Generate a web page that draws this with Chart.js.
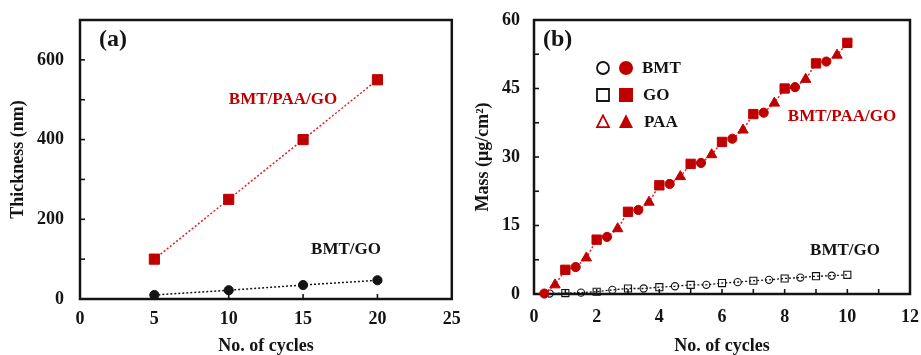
<!DOCTYPE html>
<html>
<head>
<meta charset="utf-8">
<script src="https://cdn.jsdelivr.net/npm/chart.js@4.4.1/dist/chart.umd.min.js"></script>
<style>
    html, body { margin: 0; padding: 0; background: #fff; }
    #wrap { position: relative; width: 921px; height: 355px; }
    .panel { position: absolute; top: 0; height: 355px; }
</style>
</head>
<body>
<div id="wrap">
    <div class="panel" style="left:0;width:460px"><canvas id="chartA" width="460" height="355"></canvas></div>
    <div class="panel" style="left:460px;width:461px"><canvas id="chartB" width="461" height="355"></canvas></div>
</div>
<script>
// panel (a): film thickness vs number of cycles
const cyclesA = [5, 10, 15, 20]
const thicknessPAA = [100, 250, 400, 550]
const thicknessGO = [10, 22, 35, 47]

// panel (b): mass after each deposited layer, BMT/PAA/GO (red)
const cyclesRedBMT = [0.33, 1.33, 2.33, 3.33, 4.33, 5.33, 6.33, 7.33, 8.33, 9.33]
const massRedBMT = [0.1, 5.9, 12.5, 18.4, 24.1, 28.7, 34.0, 39.7, 45.3, 50.9]
const cyclesRedPAA = [0.67, 1.67, 2.67, 3.67, 4.67, 5.67, 6.67, 7.67, 8.67, 9.67]
const massRedPAA = [2.0, 7.9, 14.3, 20.1, 25.7, 30.5, 35.9, 41.8, 47.0, 52.3]
const cyclesRedGO = [1, 2, 3, 4, 5, 6, 7, 8, 9, 10]
const massRedGO = [5.3, 11.9, 18.0, 23.8, 28.5, 33.3, 39.4, 45.0, 50.5, 55.0]

// panel (b): BMT/GO (black, open markers)
const cyclesBlackBMT = [0.5, 1.5, 2.5, 3.5, 4.5, 5.5, 6.5, 7.5, 8.5, 9.5]
const massBlackBMT = [0.1, 0.3, 0.9, 1.2, 1.7, 2.0, 2.6, 3.1, 3.6, 4.0]
const cyclesBlackGO = [1, 2, 3, 4, 5, 6, 7, 8, 9, 10]
const massBlackGO = [0.2, 0.5, 1.2, 1.5, 2.0, 2.4, 2.9, 3.4, 3.9, 4.2]

const FAMILY = "'Liberation Serif', 'Times New Roman', serif"
const INK = '#141414'
const RED = '#c00000'
const RED_LINE = '#e02020'

function pairs(xs, ys) {
    return xs.map((x, i) => ({ x: x, y: ys[i] }))
}

// interleave the layers of one film into a single sorted line
function mergeLayers(layers) {
    const pts = []
    layers.forEach(l => {
        l.xs.forEach((x, i) => pts.push({ x: x, y: l.ys[i], style: l.style, radius: l.radius }))
    })
    pts.sort((a, b) => a.x - b.x)
    return {
        data: pts.map(p => ({ x: p.x, y: p.y })),
        styles: pts.map(p => p.style),
        radii: pts.map(p => p.radius)
    }
}

const redFilm = mergeLayers([
    { xs: cyclesRedBMT, ys: massRedBMT, style: 'circle', radius: 4.6 },
    { xs: cyclesRedPAA, ys: massRedPAA, style: 'triangle', radius: 6 },
    { xs: cyclesRedGO, ys: massRedGO, style: 'rect', radius: 6.6 }
])
const blackFilm = mergeLayers([
    { xs: cyclesBlackBMT, ys: massBlackBMT, style: 'circle', radius: 3.6 },
    { xs: cyclesBlackGO, ys: massBlackGO, style: 'rect', radius: 5 }
])

// frame round the plot area and small ticks pointing inwards
const frameTicks = {
    id: 'frameTicks',
    beforeDatasetsDraw(chart) {
        const { ctx, chartArea: a } = chart
        ctx.save()
        ctx.strokeStyle = INK
        ctx.lineWidth = 1.6
        const xs = chart.scales.x
        xs.ticks.forEach(t => {
            if (t.value <= xs.min || t.value >= xs.max) return
            const px = xs.getPixelForValue(t.value)
            ctx.beginPath()
            ctx.moveTo(px, a.bottom)
            ctx.lineTo(px, a.bottom - 5)
            ctx.stroke()
        })
        const ys = chart.scales.y
        ys.ticks.forEach(t => {
            if (t.value <= ys.min || t.value >= ys.max) return
            const py = ys.getPixelForValue(t.value)
            ctx.beginPath()
            ctx.moveTo(a.left, py)
            ctx.lineTo(a.left + 5, py)
            ctx.stroke()
        })
        ctx.lineWidth = 2.5
        ctx.strokeRect(a.left, a.top, a.right - a.left, a.bottom - a.top)
        ctx.restore()
    }
}

function font(size) {
    return { family: FAMILY, size: size, weight: 'bold' }
}

function writeText(ctx, text, x, y, color, size, align) {
    ctx.font = 'bold ' + size + 'px ' + FAMILY
    ctx.fillStyle = color
    ctx.textAlign = align || 'left'
    ctx.textBaseline = 'middle'
    ctx.fillText(text, x, y)
}

function marker(ctx, kind, x, y, size, fill, stroke) {
    ctx.beginPath()
    if (kind === 'circle') {
        ctx.arc(x, y, size / 2, 0, Math.PI * 2)
    } else if (kind === 'square') {
        ctx.rect(x - size / 2, y - size / 2, size, size)
    } else {
        ctx.moveTo(x, y - size * 0.55)
        ctx.lineTo(x + size / 2, y + size * 0.42)
        ctx.lineTo(x - size / 2, y + size * 0.42)
        ctx.closePath()
    }
    if (fill) {
        ctx.fillStyle = fill
        ctx.fill()
    } else {
        ctx.lineWidth = 1.8
        ctx.strokeStyle = stroke
        ctx.stroke()
    }
}

const notesA = {
    id: 'notesA',
    afterDraw(chart) {
        const { ctx, chartArea: a } = chart
        ctx.save()
        writeText(ctx, '(a)', a.left + 19, 40, INK, 24)
        writeText(ctx, 'BMT/PAA/GO', 283, 100, RED, 17, 'center')
        writeText(ctx, 'BMT/GO', 346, 250, INK, 17, 'center')
        ctx.restore()
    }
}

const notesB = {
    id: 'notesB',
    afterDraw(chart) {
        const { ctx, chartArea: a } = chart
        ctx.save()
        writeText(ctx, '(b)', a.left + 9, 40, INK, 24)
        writeText(ctx, 'BMT/PAA/GO', 382, 117, RED, 17, 'center')
        writeText(ctx, 'BMT/GO', 385, 251, INK, 17, 'center')
        // legend: open = BMT/GO, filled = BMT/PAA/GO
        marker(ctx, 'circle', 143, 68, 12, null, INK)
        marker(ctx, 'circle', 166, 68, 14, RED)
        writeText(ctx, 'BMT', 182, 69, INK, 17)
        marker(ctx, 'square', 143, 95, 12, null, INK)
        marker(ctx, 'square', 166, 95, 14, RED)
        writeText(ctx, 'GO', 183, 96, INK, 17)
        marker(ctx, 'triangle', 143, 122, 12, null, RED)
        marker(ctx, 'triangle', 166, 122, 14, RED)
        writeText(ctx, 'PAA', 184, 123, INK, 17)
        ctx.restore()
    }
}

function axisX(min, max, step, majorEvery, labelPad, height, title) {
    return {
        type: 'linear',
        min: min,
        max: max,
        ticks: {
            stepSize: step,
            font: font(18),
            color: INK,
            padding: labelPad,
            maxRotation: 0,
            autoSkip: false,
            callback: v => (Math.round(v / step) % majorEvery === 0 ? v : '')
        },
        grid: { display: true, drawOnChartArea: false, drawTicks: false },
        border: { display: false },
        title: { display: true, text: title, color: INK, font: { family: FAMILY, size: 18, weight: 'bold', lineHeight: 1 }, padding: 0 },
        afterFit(scale) {
            scale.height = height
            scale.paddingLeft = 0
            scale.paddingRight = 0
        }
    }
}

function axisY(min, max, step, majorEvery, labelPad, width, title, titlePad) {
    return {
        type: 'linear',
        min: min,
        max: max,
        ticks: {
            stepSize: step,
            font: font(18),
            color: INK,
            padding: labelPad,
            autoSkip: false,
            callback: v => (Math.round(v / step) % majorEvery === 0 ? v : '')
        },
        grid: { display: true, drawOnChartArea: false, drawTicks: false },
        border: { display: false },
        title: { display: true, text: title, color: INK, font: { family: FAMILY, size: 18, weight: 'bold', lineHeight: 1 }, padding: { top: titlePad, bottom: 0 } },
        afterFit(scale) {
            scale.width = width
            scale.paddingTop = 0
            scale.paddingBottom = 0
        }
    }
}

new Chart(document.getElementById('chartA').getContext('2d'), {
    type: 'scatter',
    data: {
        datasets: [{
            label: 'BMT/PAA/GO',
            data: pairs(cyclesA, thicknessPAA),
            showLine: true,
            borderColor: RED_LINE,
            borderWidth: 1.5,
            borderDash: [2, 2],
            pointStyle: 'rect',
            pointRadius: 7.2,
            pointBackgroundColor: RED,
            pointBorderColor: RED,
            pointBorderWidth: 1,
            clip: false
        }, {
            label: 'BMT/GO',
            data: pairs(cyclesA, thicknessGO),
            showLine: true,
            borderColor: INK,
            borderWidth: 1.5,
            borderDash: [2, 2],
            pointStyle: 'circle',
            pointRadius: 4.6,
            pointBackgroundColor: INK,
            pointBorderColor: INK,
            pointBorderWidth: 1,
            clip: false
        }]
    },
    options: {
        responsive: false,
        animation: false,
        events: [],
        layout: { padding: { top: 20, right: 7, left: 0, bottom: 0 } },
        plugins: { legend: { display: false }, tooltip: { enabled: false } },
        scales: {
            x: axisX(0, 25, 5, 1, 10, 56, 'No. of cycles'),
            y: axisY(0, 700, 100, 2, 16, 80, 'Thickness (nm)', 9)
        }
    },
    plugins: [frameTicks, notesA]
})

new Chart(document.getElementById('chartB').getContext('2d'), {
    type: 'scatter',
    data: {
        datasets: [{
            label: 'BMT/PAA/GO',
            data: redFilm.data,
            showLine: true,
            borderColor: RED_LINE,
            borderWidth: 1.5,
            borderDash: [2, 2],
            pointStyle: redFilm.styles,
            pointRadius: redFilm.radii,
            pointBackgroundColor: RED,
            pointBorderColor: RED,
            pointBorderWidth: 1,
            clip: false
        }, {
            label: 'BMT/GO',
            data: blackFilm.data,
            showLine: true,
            borderColor: INK,
            borderWidth: 1.3,
            borderDash: [2, 2],
            pointStyle: blackFilm.styles,
            pointRadius: blackFilm.radii,
            pointBackgroundColor: 'rgba(255,255,255,0)',
            pointBorderColor: INK,
            pointBorderWidth: 1.1,
            clip: false
        }]
    },
    options: {
        responsive: false,
        animation: false,
        events: [],
        layout: { padding: { top: 20, right: 11, left: 0, bottom: 0 } },
        plugins: { legend: { display: false }, tooltip: { enabled: false } },
        scales: {
            x: axisX(0, 12, 1, 2, 13, 61, 'No. of cycles'),
            y: axisY(0, 60, 7.5, 2, 14, 74, 'Mass (μg/cm²)', 14)
        }
    },
    plugins: [frameTicks, notesB]
})
</script>
</body>
</html>
